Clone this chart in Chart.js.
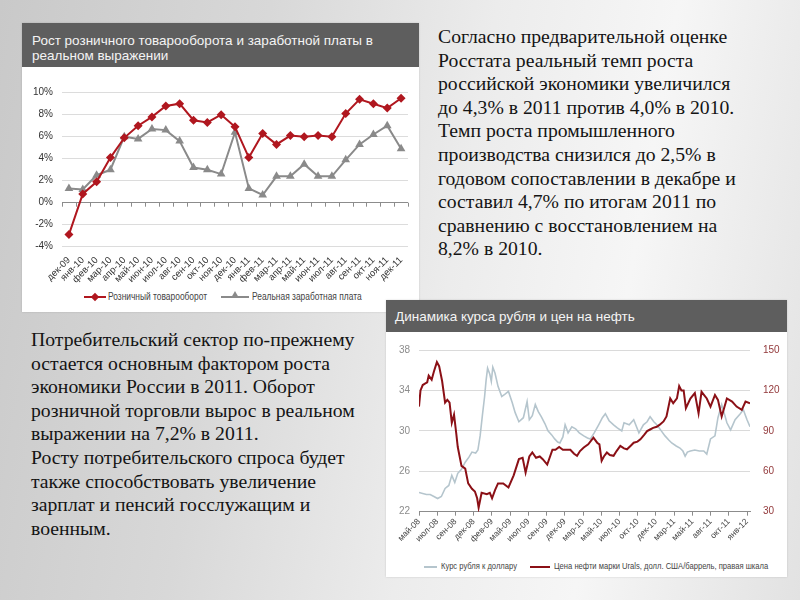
<!DOCTYPE html>
<html>
<head>
<meta charset="utf-8">
<script src="https://cdn.jsdelivr.net/npm/chart.js@4.4.0/dist/chart.umd.min.js"></script>
<style>
  body { margin: 0; width: 800px; height: 600px; overflow: hidden; position: relative;
    background: linear-gradient(100deg, #c9c9c9 0%, #d8d8d8 30%, #ececec 55%, #f6f6f6 75%, #e2e2e2 100%);
    font-family: 'Liberation Sans', Arial, sans-serif; }
  .panel { position: absolute; background: #fff; box-shadow: 0 0 2px rgba(0,0,0,0.15); }
  .head { position: absolute; background: #5e5e5e; color: #f4f4f4; font-size: 13.5px; line-height: 15px; box-sizing: border-box; }
  .txt { position: absolute; font-family: 'Liberation Serif', 'Times New Roman', serif; font-size: 19.7px; line-height: 23.6px; color: #141414; white-space: nowrap; }
  canvas { position: absolute; }
  .legend { position: absolute; font-family: 'Liberation Sans', Arial, sans-serif; color: #444; white-space: nowrap; }
  .legend span { position: absolute; transform: scaleX(0.8); transform-origin: 0 50%; }
  .ln { position: absolute; height: 2px; }
</style>
</head>
<body>
<div class="panel" style="left:22px; top:23px; width:397px; height:289px;"></div>
<div class="head" style="left:22px; top:23px; width:397px; height:44px; padding:10px 0 0 10px;">Рост розничного товарооборота и заработной платы в<br>реальном выражении</div>
<canvas id="c1" width="398" height="220" style="left:22px; top:67px;"></canvas>
<div class="legend" style="left:0; top:0; font-size:10.5px;">
  <div class="ln" style="left:84px; top:296px; width:22px; background:#b0171f;"></div>
  <div style="position:absolute; left:92px; top:294px; width:6px; height:6px; background:#b0171f; transform:rotate(45deg);"></div>
  <span style="left:108px; top:290px;">Розничный товарооборот</span>
  <div class="ln" style="left:221px; top:296px; width:28px; background:#8a8a8a;"></div>
  <div style="position:absolute; left:231px; top:291px; width:0; height:0; border-left:4px solid transparent; border-right:4px solid transparent; border-bottom:7px solid #8a8a8a;"></div>
  <span style="left:252px; top:290px;">Реальная заработная плата</span>
</div>

<div class="panel" style="left:386px; top:300px; width:401px; height:277px;"></div>
<div class="head" style="left:386px; top:300px; width:401px; height:32px; padding:9px 0 0 9px;">Динамика курса рубля и цен на нефть</div>
<canvas id="c2" width="395" height="212" style="left:385px; top:335px;"></canvas>
<div class="legend" style="left:0; top:0; font-size:9.5px;">
  <div class="ln" style="left:424px; top:566px; width:13px; height:1.5px; background:#b5c5cd;"></div>
  <span style="left:441px; top:560px;">Курс рубля к доллару</span>
  <div class="ln" style="left:530px; top:566px; width:20px; background:#8b1016;"></div>
  <span style="left:554px; top:560px;">Цена нефти марки Urals, долл. США/баррель, правая шкала</span>
</div>

<div class="txt" style="left:438px; top:25px;">Согласно предварительной оценке<br>Росстата реальный темп роста<br>российской экономики увеличился<br>до 4,3% в 2011 против 4,0% в 2010.<br>Темп роста промышленного<br>производства снизился до 2,5% в<br>годовом сопоставлении в декабре и<br>составил 4,7% по итогам 2011 по<br>сравнению с восстановлением на<br>8,2% в 2010.</div>
<div class="txt" style="left:31px; top:328px;">Потребительский сектор по-прежнему<br>остается основным фактором роста<br>экономики России в 2011. Оборот<br>розничной торговли вырос в реальном<br>выражении на 7,2% в 2011.<br>Росту потребительского спроса будет<br>также способствовать увеличение<br>зарплат и пенсий госслужащим и<br>военным.</div>

<script>
// --- график 1: розничный товарооборот и зарплата, % г/г ---
const months1 = ['дек-09','янв-10','фев-10','мар-10','апр-10','май-10','июн-10','июл-10','авг-10','сен-10','окт-10','ноя-10','дек-10',
  'янв-11','фев-11','мар-11','апр-11','май-11','июн-11','июл-11','авг-11','сен-11','окт-11','ноя-11','дек-11'];
const retail = [-2.9, 0.8, 1.9, 4.1, 5.9, 7.0, 7.8, 8.8, 9.0, 7.5, 7.3, 8.0, 6.9, 4.1, 6.3, 5.3, 6.1, 6.0, 6.1, 6.0, 8.1, 9.4, 9.0, 8.6, 9.5];
const wages = [1.3, 1.2, 2.5, 3.0, 6.0, 5.8, 6.7, 6.6, 5.6, 3.2, 3.0, 2.6, 6.4, 1.3, 0.7, 2.4, 2.4, 3.5, 2.4, 2.4, 3.9, 5.3, 6.2, 7.0, 4.9];

// --- график 2: курс рубля и нефть Urals (x = месяцы от мая 2008) ---
const rubX = [0, 0.5, 1, 1.5, 2, 2.5, 3, 3.5, 4, 4.4, 4.8, 5.2, 5.7, 6.2, 6.7, 7.1, 7.6, 7.9, 8.2, 8.5, 8.8, 9.0, 9.2, 9.5, 9.7, 9.9,
  10.2, 10.6, 11.1, 11.5, 12, 12.5, 12.9, 13.4, 14, 14.5, 14.8, 15.2, 15.6, 16, 16.4, 16.9, 17.3, 17.8, 18.2, 18.6, 18.9, 19.3, 19.6, 20,
  20.5, 21, 21.5, 22.1, 22.6, 23, 23.5, 24.1, 24.6, 25, 25.5, 26.1, 26.6, 27.2, 27.5, 28.2, 28.8, 29.5, 30.1, 30.6, 31, 31.5, 31.9,
  32.5, 33, 33.5, 33.9, 34.5, 35, 35.4, 35.7, 36, 36.4, 37, 37.6, 38.2, 38.6, 39.1, 39.7, 40.1, 40.6, 41, 41.3, 41.8, 42.4, 43.1, 43.5, 44, 44.4];
const rubRate = [23.9, 23.8, 23.7, 23.7, 23.5, 23.3, 23.5, 24.3, 24.6, 25.6, 24.9, 25.8, 26.2, 26.9, 27.4, 27.9, 27.8, 28.1, 29.5, 31.5, 33.4, 35.0, 36.2, 35.6, 34.9, 36.3,
  35.7, 34.4, 33.4, 33.6, 33.9, 32.8, 31.8, 30.9, 31.3, 32.9, 31.1, 31.5, 32.6, 31.9, 31.4, 30.7, 30.0, 29.6, 29.2, 28.9, 28.8, 29.4, 30.6, 29.8,
  30.4, 30.2, 29.8, 29.5, 29.3, 29.2, 29.8, 30.6, 31.3, 31.7, 31.0, 30.6, 30.3, 30.0, 30.8, 30.6, 31.1, 29.8, 30.6, 30.9, 31.4, 30.9, 30.6,
  30.0, 29.5, 29.1, 28.8, 28.5, 28.3, 28.0, 27.5, 27.9, 28.0, 28.1, 28.0, 28.0, 27.7, 29.2, 29.5, 31.3, 32.6, 31.6, 30.8, 30.1, 31.1, 31.7, 32.1, 31.1, 30.4];
const oilX = [0, 0.2, 0.5, 0.8, 1.1, 1.3, 1.7, 2.0, 2.4, 2.7, 3.1, 3.5, 3.8, 4.1, 4.4, 4.7, 5.0, 5.2, 5.7, 6.2, 6.6, 7.1, 7.5, 7.8, 8.0, 8.4,
  9.1, 9.5, 9.8, 10.2, 10.6, 11.3, 12, 12.7, 13.4, 13.9, 14.3, 14.8, 15.2, 15.7, 16.2, 16.6, 17.2, 17.9, 18.3, 18.8, 19.3, 19.7,
  20.3, 20.8, 21.2, 21.6, 22.1, 22.7, 23.4, 23.9, 24.2, 24.5, 24.8, 25.2, 25.6, 26.1, 26.5, 27, 27.5, 27.9, 28.4, 28.8, 29.3, 29.7,
  30.2, 30.6, 31, 31.4, 31.9, 32.3, 32.8, 33.2, 33.7, 34.1, 34.6, 34.9, 35.2, 35.5, 35.8, 36.4, 37, 37.5, 37.9, 38.6, 39.1, 39.7,
  40.1, 40.6, 41.3, 42, 42.6, 43.3, 43.8, 44.4];
const oilPrice = [108, 120, 124, 125, 126, 131, 128, 134, 141, 138, 127, 111, 113, 111, 96, 102, 88, 78, 64, 62, 51, 47, 45, 40, 33, 44,
  43, 44, 40, 46, 51, 51, 48, 57, 69, 70, 59, 71, 74, 70, 71, 69, 65, 76, 76, 78, 76, 76,
  76, 73, 71.5, 75, 77.6, 80, 84.9, 81.2, 80, 67.8, 71, 73.9, 72, 71.5, 75, 78.8, 77, 76.3, 79, 81.2, 82, 83.7,
  87, 89.8, 91, 92.2, 93, 94.6, 97, 100.7, 114.1, 110.5, 114.1, 123.2, 120, 120, 106.8, 114, 118, 103, 119, 114, 108, 116.6,
  113, 100.7, 114, 111.7, 108, 105.6, 111.7, 110.5];
const ticks2 = ['май-08','июл-08','сен-08','дек-08','фев-09','май-09','июл-09','сен-09','дек-09','мар-10',
  'май-10','июл-10','окт-10','дек-10','мар-11','май-11','авг-11','окт-11','янв-12'];

const sans = "'Liberation Sans', Arial, sans-serif";

// линия оси на уровне 0% с засечками между категориями
const zeroAxis = {
  id: 'zeroAxis',
  afterDatasetsDraw(chart) {
    const x = chart.scales.x, y = chart.scales.y, ctx = chart.ctx;
    const y0 = y.getPixelForValue(0);
    const half = (x.getPixelForValue(1) - x.getPixelForValue(0)) / 2;
    ctx.save();
    ctx.strokeStyle = '#8c8c8c';
    ctx.lineWidth = 1;
    ctx.beginPath();
    for (let i = 0; i <= months1.length; i++) {
      const px = Math.round(x.getPixelForValue(i) - half) + 0.5;
      ctx.moveTo(px, y0);
      ctx.lineTo(px, y0 + 4);
    }
    ctx.stroke();
    ctx.restore();
  }
};

new Chart(document.getElementById('c1'), {
  type: 'line',
  data: {
    labels: months1,
    datasets: [
      { label: 'Розничный товарооборот', data: retail, borderColor: '#b0171f', backgroundColor: '#b0171f',
        borderWidth: 2, pointStyle: 'rectRot', pointRadius: 4.5, pointBorderWidth: 0, tension: 0 },
      { label: 'Реальная заработная плата', data: wages, borderColor: '#8a8a8a', backgroundColor: '#8a8a8a',
        borderWidth: 2, pointStyle: 'triangle', pointRadius: 5, pointBorderWidth: 0, tension: 0 }
    ]
  },
  options: {
    responsive: false,
    animation: false,
    layout: { padding: { top: 25.7, right: 12, left: 0, bottom: 0 } },
    plugins: { legend: { display: false }, tooltip: { enabled: false } },
    scales: {
      x: {
        offset: true,
        grid: { display: false },
        border: { display: false },
        ticks: { autoSkip: false, minRotation: 45, maxRotation: 45, padding: 0, color: '#333', font: { family: sans, size: 9.5 } },
        afterFit: s => { s.height = 40.3; }
      },
      y: {
        min: -4, max: 10,
        ticks: { stepSize: 2, padding: 9, color: '#333', callback: v => v + '%', font: { family: sans, size: 10 } },
        grid: { drawTicks: false, color: c => (c.tick && c.tick.value === 0) ? '#8c8c8c' : '#dcdcdc' },
        border: { display: false },
        afterFit: s => { s.width = 40; }
      }
    }
  },
  plugins: [zeroAxis]
});

new Chart(document.getElementById('c2'), {
  type: 'line',
  data: {
    datasets: [
      { label: 'Цена нефти марки Urals, долл. США/баррель, правая шкала', yAxisID: 'y1', order: 0,
        data: oilX.map((m, i) => ({ x: m, y: oilPrice[i] })),
        borderColor: '#8b1016', borderWidth: 2, pointRadius: 0, tension: 0 },
      { label: 'Курс рубля к доллару', yAxisID: 'y', order: 1,
        data: rubX.map((m, i) => ({ x: m, y: rubRate[i] })),
        borderColor: '#b5c5cd', borderWidth: 1.6, pointRadius: 0, tension: 0 }
    ]
  },
  options: {
    responsive: false,
    animation: false,
    layout: { padding: { top: 12.7, right: 0, left: 0, bottom: 0 } },
    plugins: { legend: { display: false }, tooltip: { enabled: false } },
    scales: {
      x: {
        type: 'linear', min: 0, max: 44.4,
        afterBuildTicks: s => { s.ticks = ticks2.map((_, i) => ({ value: i * 44 / 18 })); },
        ticks: { autoSkip: false, minRotation: 45, maxRotation: 45, padding: 1, color: '#444',
          callback: (v, i) => ticks2[i], font: { family: sans, size: 8.5 } },
        grid: { drawOnChartArea: false, color: '#8c8c8c', tickLength: 4 },
        border: { color: '#8c8c8c' },
        afterFit: s => { s.height = 35.3; }
      },
      y: {
        position: 'left', min: 22, max: 38,
        ticks: { stepSize: 4, padding: 9, color: '#8c8c8c', font: { family: sans, size: 10 } },
        grid: { drawTicks: false, color: '#dadada' },
        border: { display: false },
        afterFit: s => { s.width = 34; }
      },
      y1: {
        position: 'right', min: 30, max: 150,
        ticks: { stepSize: 30, padding: 5, color: '#93393b', font: { family: sans, size: 10 } },
        grid: { display: false },
        border: { display: false },
        afterFit: s => { s.width = 30; }
      }
    }
  }
});
</script>
</body>
</html>
